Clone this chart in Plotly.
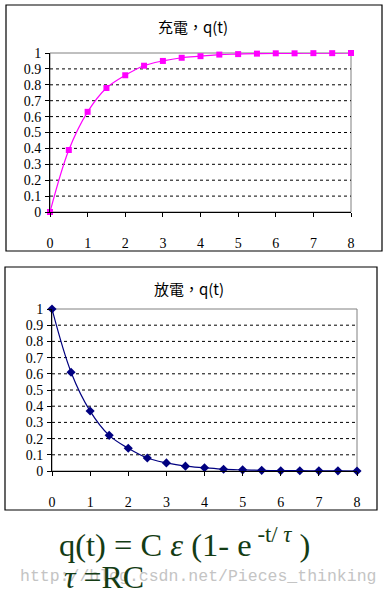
import plotly.graph_objects as go

W, H = 390, 605

t = [0, 0.5, 1, 1.5, 2, 2.5, 3, 3.5, 4, 4.5, 5, 5.5, 6, 6.5, 7, 7.5, 8]
charge = [0, 0.39, 0.63, 0.78, 0.86, 0.92, 0.95, 0.97, 0.98, 0.99, 0.993,
          0.996, 0.998, 0.998, 0.999, 0.999, 1.0]
discharge = [1, 0.61, 0.37, 0.22, 0.14, 0.08, 0.05, 0.03, 0.02, 0.011, 0.007,
             0.004, 0.002, 0.002, 0.001, 0.001, 0.0]
x_ticks = [0, 1, 2, 3, 4, 5, 6, 7, 8]
y_ticks = [0, 0.1, 0.2, 0.3, 0.4, 0.5, 0.6, 0.7, 0.8, 0.9, 1]
y_labels = ["0", "0.1", "0.2", "0.3", "0.4", "0.5", "0.6", "0.7", "0.8", "0.9", "1"]
title_top = "充電，q(t)"
title_bot = "放電，q(t)"

FONT = "Liberation Serif"


def px(x):
    return x / W


def py(y):
    return 1 - y / H


fig = go.Figure()

fig.add_trace(go.Scatter(
    x=t, y=charge, mode="lines+markers", line=dict(color="#FF00FF", width=1.2, shape="spline"),
    marker=dict(symbol="square", size=6, color="#FF00FF"), xaxis="x", yaxis="y", showlegend=False,
    cliponaxis=False))
fig.add_trace(go.Scatter(
    x=t, y=discharge, mode="lines+markers", line=dict(color="#000080", width=1.2, shape="spline"),
    marker=dict(symbol="diamond", size=7, color="#000080"), xaxis="x2", yaxis="y2", showlegend=False,
    cliponaxis=False))

axis_common = dict(showgrid=False, zeroline=False, showline=True, linecolor="black", linewidth=1,
                   ticks="outside", ticklen=4, tickcolor="black", automargin=False,
                   tickfont=dict(family=FONT, size=14, color="black"), fixedrange=True)

fig.update_layout(
    width=W, height=H, margin=dict(l=0, r=0, t=0, b=0, pad=0, autoexpand=False), autosize=False,
    paper_bgcolor="white", plot_bgcolor="white",
    xaxis=dict(domain=[px(50), px(351)], range=[0, 8], tickvals=x_ticks, anchor="y", ticklabelstandoff=14,
               **axis_common),
    yaxis=dict(domain=[py(212), py(53)], range=[0, 1], tickvals=y_ticks, ticktext=y_labels, anchor="x",
               ticklabelstandoff=1, **axis_common),
    xaxis2=dict(domain=[px(52), px(357)], range=[0, 8], tickvals=x_ticks, anchor="y2", ticklabelstandoff=14,
                **axis_common),
    yaxis2=dict(domain=[py(471), py(309)], range=[0, 1], tickvals=y_ticks, ticktext=y_labels, anchor="x2",
                ticklabelstandoff=1, **axis_common),
)

shapes = []
shapes.append(dict(type="rect", xref="paper", yref="paper", x0=px(6), x1=px(382), y0=py(251), y1=py(5),
                   line=dict(color="black", width=1.2), layer="below"))
shapes.append(dict(type="rect", xref="paper", yref="paper", x0=px(5), x1=px(377), y0=py(510), y1=py(267),
                   line=dict(color="black", width=1.2), layer="below"))
for xa, ya in [("x", "y"), ("x2", "y2")]:
    shapes.append(dict(type="rect", xref=f"{xa} domain", yref=f"{ya} domain", x0=0, x1=1, y0=0, y1=1,
                       line=dict(color="#808080", width=1), layer="below"))
    for v in y_ticks[1:-1]:
        shapes.append(dict(type="line", xref=f"{xa} domain", yref=ya, x0=0, x1=1, y0=v, y1=v,
                           line=dict(color="black", width=1, dash="3px,3px"), layer="below"))
fig.update_layout(shapes=shapes)

ann = []
ann.append(dict(text=title_top, xref="paper", yref="paper", x=px(193), y=py(27), showarrow=False,
                xanchor="center", yanchor="middle",
                font=dict(family="Noto Sans CJK TC", size=15, color="black")))
ann.append(dict(text=title_bot, xref="paper", yref="paper", x=px(189), y=py(288), showarrow=False,
                xanchor="center", yanchor="middle",
                font=dict(family="Noto Sans CJK TC", size=15, color="black")))
ann.append(dict(text="http://blog.csdn.net/Pieces_thinking", xref="paper", yref="paper", x=px(198), y=py(576),
                xanchor="center", yanchor="middle",
                showarrow=False, font=dict(family="Liberation Mono", size=16.5, color="#c4c4c4")))
ann.append(dict(text="q(t) = C <i>ε</i> (1- e<sup> -t/ <i>τ</i></sup> )", xref="paper", yref="paper",
                x=px(184), y=py(542), showarrow=False, xanchor="center", yanchor="middle",
                font=dict(family=FONT, size=32.5, color="#143c14")))
ann.append(dict(text="<i>τ</i> =RC", xref="paper", yref="paper", x=px(62), y=py(577), xanchor="left",
                yanchor="middle",
                showarrow=False, font=dict(family=FONT, size=32, color="#143c14")))
fig.update_layout(annotations=ann)

fig.write_html("out.html")
